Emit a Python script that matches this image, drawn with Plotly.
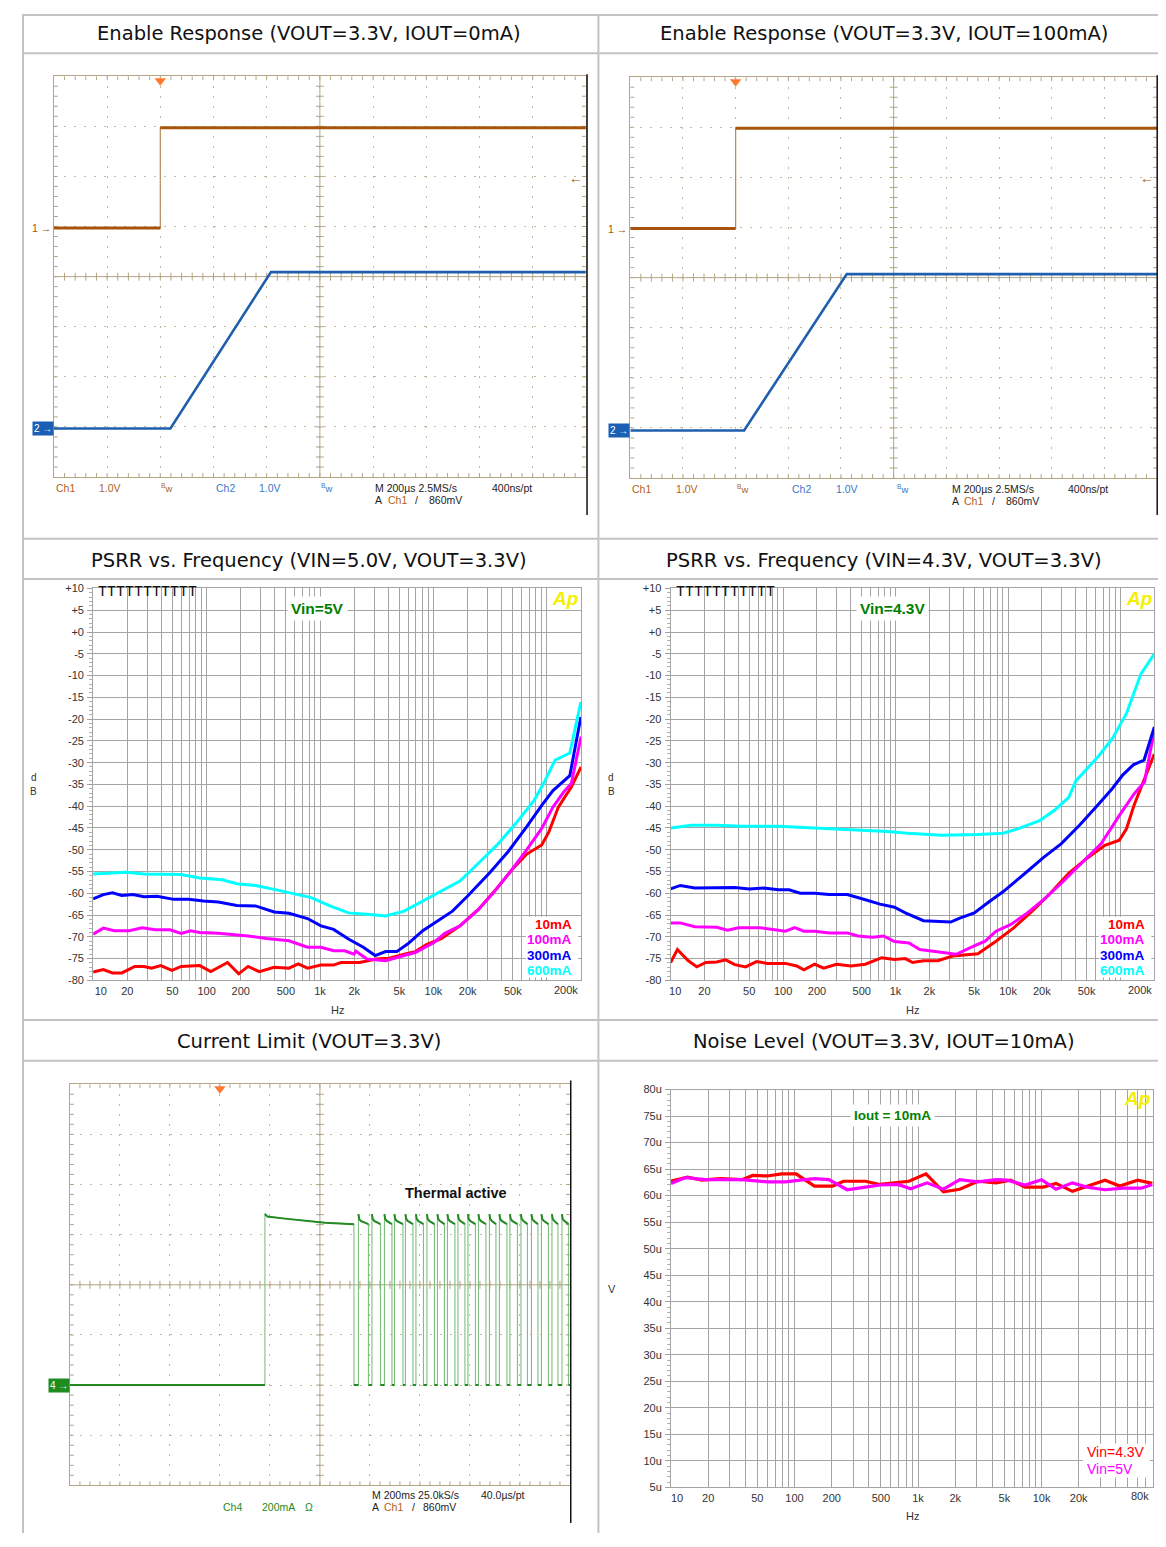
import math
import plotly.graph_objects as go

# The page keeps the browser's 8px body margin, so the figure is drawn 16px smaller
# and every reference pixel position is mapped with that 8px offset.
# Nothing may spill past the figure's right edge (it would widen the page).
W, H = 1150, 1531
OFF = 8
def fx(x): return (x - OFF) / W
def fy(y): return 1 - (y - OFF) / H
def dom(a, b): return [max(0.0, min(1.0, a)), max(0.0, min(1.0, b))]

# ================= DATA =================
# Enable response, VOUT=3.3V, IOUT=0mA  (time in us, volts)
en0_t = [-400, 0, 0, 1600]
en0_v = [0.0, 0.0, 2.0, 2.0]
vo0_t = [-400, 38, 416, 1600]
vo0_v = [0.0, 0.0, 3.12, 3.12]
# Enable response, VOUT=3.3V, IOUT=100mA
en100_t = [-400, 0, 0, 1600]
en100_v = [0.0, 0.0, 2.0, 2.0]
vo100_t = [-400, 32, 422, 1600]
vo100_v = [0.0, 0.0, 3.12, 3.12]
trig_level_v = 1.0

# PSRR, VIN=5.0V (Hz, dB)
psrr5_f_10 = [10, 12.3, 14.8, 17.9, 23.3, 28.1, 32.7, 39.5, 49.5, 59.8, 87, 109, 153, 192, 232, 291, 394, 532, 643, 776,
              1018, 1316, 1530, 2231, 3133, 4078, 5514, 6917, 8671, 11700, 17100, 24900, 36400, 49100, 66400, 89900,
              104000, 126000, 164000, 200000]
psrr5_db_10 = [-78.1, -77.5, -78.3, -78.3, -76.8, -76.8, -77.2, -76.6, -77.7, -76.8, -76.6, -78.0, -75.9, -78.5, -76.8,
               -78.0, -77.0, -77.2, -76.2, -77.2, -76.5, -76.5, -75.9, -75.9, -75.1, -74.9, -74.0, -73.4, -71.8, -70.4,
               -67.5, -63.7, -58.8, -54.6, -51.0, -48.9, -45.9, -40.2, -35.6, -31.0]
psrr5_f_100 = [10, 12.3, 15.4, 20.8, 27.1, 35.2, 47.6, 59.8, 72.2, 87, 127, 185, 232, 338, 532, 776, 1018, 1316, 1650,
               1993, 2070, 2594, 3783, 5514, 6917, 10100, 12600, 17100, 24900, 33700, 49100, 66400, 89900, 113000,
               141000, 164000, 200000]
psrr5_db_100 = [-69.4, -68.0, -68.6, -68.6, -67.9, -68.4, -68.4, -69.2, -68.6, -69.0, -69.2, -69.6, -69.8, -70.4, -70.9,
                -72.4, -72.4, -73.2, -73.2, -74.0, -73.3, -75.1, -75.5, -74.3, -73.6, -71.3, -69.2, -67.5, -63.7, -59.9,
                -54.6, -50.0, -45.1, -40.2, -36.7, -34.8, -24.0]
psrr5_f_300 = [10, 12.3, 14.8, 17.9, 22.4, 28.1, 36.6, 51.4, 69.5, 93.9, 127, 185, 270, 394, 532, 776, 1018, 1316, 1780,
               2406, 3063, 3783, 4745, 5948, 8042, 10900, 14700, 19900, 31300, 45600, 66400, 89900, 113000, 159000,
               199000]
psrr5_db_300 = [-61.3, -60.3, -59.9, -60.5, -60.3, -60.8, -60.7, -61.4, -61.4, -61.8, -62.0, -62.8, -62.9, -64.3, -64.6,
                -65.8, -67.5, -68.3, -70.5, -72.4, -74.3, -73.4, -73.4, -71.6, -68.6, -66.4, -64.1, -60.7, -55.3, -50.4,
                -44.7, -39.8, -36.4, -33.0, -19.5]
psrr5_f_600 = [10, 19.3, 28.1, 41.0, 59.8, 87, 137, 185, 270, 394, 619, 837, 1221, 1780, 2594, 3783, 5514, 8042, 11700,
               17100, 24900, 36400, 53000, 77300, 93300, 118000, 159000, 199000]
psrr5_db_600 = [-55.6, -55.2, -55.6, -55.7, -55.7, -56.5, -56.9, -57.8, -58.2, -59.1, -60.3, -61.0, -62.9, -64.5, -64.8,
                -65.2, -64.1, -61.8, -59.5, -57.2, -53.1, -48.9, -44.0, -38.6, -34.8, -29.4, -27.8, -16.1]

# PSRR, VIN=4.3V (Hz, dB)
psrr43_f_10 = [10, 11.5, 14.2, 17.1, 20.6, 25.7, 30.9, 37.2, 46.5, 58.1, 72.7, 105, 132, 153, 191, 230, 298, 401, 540,
               754, 978, 1222, 1418, 1772, 2384, 3210, 5399, 7826, 11300, 16400, 23800, 34600, 50100, 72700, 97800,
               113000, 132000, 158000, 200000]
psrr43_db_10 = [-75.9, -72.9, -75.4, -76.9, -75.9, -75.8, -75.3, -76.4, -76.9, -75.7, -76.1, -76.1, -76.7, -77.6, -76.3,
                -77.2, -76.3, -76.7, -76.3, -74.8, -75.2, -75.0, -75.9, -75.5, -75.5, -74.4, -73.9, -71.0, -67.9, -64.1,
                -60.0, -55.4, -52.0, -49.0, -47.8, -45.2, -39.8, -34.5, -28.0]
psrr43_f_100 = [10, 12.2, 16.4, 25.7, 32.1, 40.1, 62.6, 78.3, 105, 127, 153, 191, 257, 372, 465, 626, 783, 978, 1316,
                1645, 2384, 3457, 5012, 6262, 7826, 10500, 14200, 20600, 29800, 46500, 67400, 97800, 132000, 164000,
                171000, 200000]
psrr43_db_100 = [-66.8, -66.8, -67.7, -67.8, -68.5, -67.9, -67.9, -68.3, -68.7, -67.9, -68.7, -68.7, -69.1, -69.1, -69.8,
                 -70.1, -69.8, -71.1, -71.4, -72.9, -73.4, -74.0, -72.1, -71.0, -68.7, -67.2, -64.9, -61.5, -57.7, -52.8,
                 -48.6, -42.1, -37.2, -34.4, -31.7, -22.6]
psrr43_f_300 = [10, 12.2, 16.4, 23.8, 37.2, 50.1, 67.4, 90.8, 113, 142, 191, 257, 372, 540, 727, 978, 1222, 1772, 2384,
                3093, 3724, 5012, 6745, 9081, 14200, 20600, 29800, 43200, 62600, 84300, 105000, 130000, 162000, 200000]
psrr43_db_300 = [-59.0, -58.2, -58.8, -58.7, -58.7, -59.0, -58.8, -59.2, -59.2, -60.0, -60.0, -60.3, -60.3, -61.5, -62.5,
                 -63.2, -64.5, -66.3, -66.4, -66.6, -65.7, -64.5, -62.0, -59.6, -55.4, -51.8, -48.6, -44.4, -39.8, -36.0,
                 -32.8, -30.5, -29.4, -21.8]
psrr43_f_600 = [10, 15.3, 25.7, 43.2, 90.8, 191, 401, 843, 1418, 2569, 5399, 9081, 12200, 19100, 25700, 34600, 40100,
                62800, 84600, 113000, 131000, 152000, 200000]
psrr43_db_600 = [-45.0, -44.4, -44.4, -44.6, -44.6, -45.0, -45.5, -45.8, -46.3, -46.7, -46.5, -46.2, -45.2, -43.3, -41.0,
                 -38.0, -34.2, -28.7, -24.5, -18.7, -14.2, -9.6, -5.0]

psrr_labels = ["10mA", "100mA", "300mA", "600mA"]
psrr_colors = ["#ff0000", "#ff00ff", "#0000ff", "#00ffff"]

# Current limit (time in ms, current in mA)
cl_step_ms = 180
cl_init_t = [180, 190, 260, 340, 420, 536]
cl_init_ma = [683, 672, 664, 655, 648, 642]
cl_fall_ms = [536, 594, 642, 688, 732, 772, 814, 858, 898, 940, 980, 1022, 1064, 1104, 1148, 1190, 1230, 1272, 1314,
              1352, 1394]
cl_rise_ms = [554, 608, 658, 698, 742, 784, 828, 870, 910, 952, 992, 1034, 1078, 1118, 1160, 1204, 1246, 1286, 1328,
              1368]
cl_peak_ma = 682
cl_settle_ma = 655
cl_end_ma = 642

# Noise level (Hz, uV)
noise_f_43 = [10, 13.6, 17.8, 25, 37.5, 45.9, 60.2, 78.9, 103, 145, 204, 249, 375, 491, 844, 1161, 1607, 2178, 3055,
              4287, 5623, 7375, 10350, 13100, 17800, 23300, 32700, 42900, 60100, 78900]
noise_v_43 = [62.7, 63.5, 62.9, 63.2, 63.0, 63.8, 63.7, 64.1, 64.1, 61.8, 61.8, 62.7, 62.7, 62.1, 62.7, 64.1, 60.7, 61.2,
              62.7, 62.4, 62.9, 61.6, 61.6, 62.3, 60.8, 61.8, 62.9, 61.8, 62.9, 62.3]
noise_f_5 = [10, 13.1, 19.0, 37.5, 60.2, 84.4, 111, 145, 190, 267, 375, 491, 689, 873, 1185, 1607, 2178, 3055, 4287,
             5256, 7375, 10000, 13100, 17800, 23300, 32700, 45900, 64400, 78900]
noise_v_5 = [62.3, 63.4, 63.0, 63.0, 62.6, 62.6, 62.9, 63.2, 63.0, 61.1, 61.6, 62.0, 62.1, 61.3, 62.4, 61.2, 63.0, 62.6,
             63.0, 62.9, 62.0, 63.0, 61.2, 62.4, 61.6, 61.1, 61.4, 61.4, 62.1]

psrr_xtick_vals = [10, 20, 50, 100, 200, 500, 1000, 2000, 5000, 10000, 20000, 50000, 200000]
psrr_xtick_text = ["10", "20", "50", "100", "200", "500", "1k", "2k", "5k", "10k", "20k", "50k", "200k"]
psrr_ytick_vals = list(range(-80, 11, 5))
psrr_ytick_text = [("+%d" % v) if v >= 0 else str(v) for v in psrr_ytick_vals]
noise_xtick_vals = [10, 20, 50, 100, 200, 500, 1000, 2000, 5000, 10000, 20000, 80000]
noise_xtick_text = ["10", "20", "50", "100", "200", "500", "1k", "2k", "5k", "10k", "20k", "80k"]
noise_ytick_vals = list(range(5, 81, 5))
noise_ytick_text = ["%du" % v for v in noise_ytick_vals]

# ================= STYLE =================
TAN = "#b3a585"
DOT = "#c4b99c"
GRID = "#a4a4a4"
BROWN = "#a8540c"
BLUE = "#1f5fae"
GREEN = "#238a23"
SANS = "Liberation Sans"
NB = "\u00a0"

fig = go.Figure()
annotations = []
shapes = []

def ann(x, y, text, size=11, color="#222", xanchor="left", yanchor="middle", family=SANS,
        xref="paper", yref="paper", bg=None, pad=1, conv=True):
    d = dict(x=fx(x) if (conv and xref == "paper") else x,
             y=fy(y) if (conv and yref == "paper") else y,
             xref=xref, yref=yref, text=text, showarrow=False,
             xanchor=xanchor, yanchor=yanchor, font=dict(size=size, color=color, family=family),
             borderpad=pad)
    if bg:
        d["bgcolor"] = bg
    annotations.append(d)

def split_flats(t, v):
    xs, ys = [], []
    for i in range(len(t)):
        if i > 0 and t[i] == t[i - 1]:
            xs.append(None); ys.append(None)
        xs.append(t[i]); ys.append(v[i])
    return xs, ys

def scope_decor(xa, ya, x0, x1, ppx, ppy):
    xs, ys = [], []
    xc = (x0 + x1) / 2.0
    yc = 4.0
    div = (x1 - x0) / 10.0
    def seg(a, b, c, d):
        xs.extend([a, c, None]); ys.extend([b, d, None])
    seg(xc, 0, xc, 8)
    seg(x0, yc, x1, yc)
    lxc, lyc = 4.0 / ppx, 4.0 / ppy
    lxb, lyb = 4.0 / ppx, 4.0 / ppy
    for k in range(1, 50):
        x = x0 + k * div / 5.0
        seg(x, yc - lyc, x, yc + lyc)
        seg(x, 0, x, lyb)
        seg(x, 8 - lyb, x, 8)
    for k in range(1, 40):
        y = k * 0.2
        seg(xc - lxc, y, xc + lxc, y)
        seg(x0, y, x0 + lxb, y)
        seg(x1 - lxb, y, x1, y)
    return go.Scatter(x=xs, y=ys, xaxis=xa, yaxis=ya, mode="lines",
                      line=dict(color=TAN, width=1), hoverinfo="skip", showlegend=False)

def scope_axes(dom_x, dom_y, xr, dt, yname_anchor, xname_anchor):
    xa = dict(domain=dom_x, range=xr, dtick=dt, tick0=xr[0], showline=True, linecolor=TAN, linewidth=1,
              mirror=True, showgrid=True, gridcolor=DOT, griddash="2px,8px", gridwidth=1, ticks="",
              showticklabels=False, zeroline=False, anchor=yname_anchor)
    ya = dict(domain=dom_y, range=[0, 8], dtick=1, tick0=0, showline=True, linecolor=TAN, linewidth=1,
              mirror=True, showgrid=True, gridcolor=DOT, griddash="2px,8px", gridwidth=1, ticks="",
              showticklabels=False, zeroline=False, anchor=xname_anchor)
    return xa, ya

def over_axis(base, rng, anchor):
    return dict(overlaying=base, range=rng, visible=False, anchor=anchor, showgrid=False, zeroline=False)

# ---------- Panel 1 & 2: enable response ----------
scope_geo = [
    ("x", "y", "y2", "y3", 40.3, 578.8, 70.7, 474.7, 4.97, 0.97, en0_t, en0_v, vo0_t, vo0_v),
    ("x2", "y4", "y5", "y6", 623.8, 1157.0, 71.7, 475.7, 4.98, 0.95, en100_t, en100_v, vo100_t, vo100_v),
]
layout_axes = {}
for i, (xa, yb, y1, y2, L, R, T, B, g1, g2, et, ev, vt, vv) in enumerate(scope_geo):
    xname = "xaxis" if xa == "x" else "xaxis" + xa[1:]
    ybn = "yaxis" if yb == "y" else "yaxis" + yb[1:]
    xd, yd = scope_axes(dom(fx(L), fx(R)), dom(fy(B), fy(T)), [-400, 1600], 200, yb, xa)
    layout_axes[xname] = xd
    layout_axes[ybn] = yd
    layout_axes["yaxis" + y1[1:]] = over_axis(yb, [-g1, 8 - g1], xa)
    layout_axes["yaxis" + y2[1:]] = over_axis(yb, [-g2, 8 - g2], xa)
    ppx = (R - L) / 2000.0
    ppy = (B - T) / 8.0
    fig.add_trace(scope_decor(xa, yb, -400, 1600, ppx, ppy))
    fig.add_trace(go.Scatter(x=[0], y=[8 - 4.5 / ppy], xaxis=xa, yaxis=yb, mode="markers",
                             marker=dict(symbol="triangle-down", size=10, color="#ff7a30"),
                             cliponaxis=False, hoverinfo="skip", showlegend=False))
    fig.add_trace(go.Scatter(x=et, y=ev, xaxis=xa, yaxis=y1, mode="lines",
                             line=dict(color="#b48a58", width=1.2), hoverinfo="skip", showlegend=False))
    fx1, fy1 = split_flats(et, ev)
    fig.add_trace(go.Scatter(x=fx1, y=fy1, xaxis=xa, yaxis=y1, mode="lines",
                             line=dict(color=BROWN, width=3), hoverinfo="skip", showlegend=False))
    fig.add_trace(go.Scatter(x=vt, y=vv, xaxis=xa, yaxis=y2, mode="lines",
                             line=dict(color=BLUE, width=2.6), hoverinfo="skip", showlegend=False))
    ann(L - 1, 0, "1 \u2192", size=10.5, color=BROWN, xanchor="right", yref=y1, conv=False)
    annotations[-1]["x"] = fx(L - 1)
    ann(L, 0, "2 \u2192", size=10, color="white", xanchor="right", yref=y2, bg="#1a5fb4", pad=1, conv=False)
    annotations[-1]["x"] = fx(L)
    ann(R - 1, trig_level_v, "\u2190", size=14, color=BROWN, xanchor="right", yref=y1, conv=False)
    annotations[-1]["x"] = fx(R - 1)
    off = L
    by1, by2 = B + 11, B + 23
    ann(off + 0, by1, "Ch1", 10.5, "#b0631c")
    ann(off + 44, by1, "1.0V", 10.5, "#b0631c")
    ann(off + 106, by1, "<sup>B</sup>w", 9.5, "#b0631c")
    ann(off + 162, by1, "Ch2", 10.5, "#3a78c8")
    ann(off + 206, by1, "1.0V", 10.5, "#3a78c8")
    ann(off + 268, by1, "<sup>B</sup>w", 9.5, "#3a78c8")
    ann(off + 323.5, by1, "M 200\u00b5s 2.5MS/s", 10.5, "#222")
    ann(off + 441, by1, "400ns/pt", 10.5, "#222")
    ann(off + 323.5, by2, "A", 10.5, "#222")
    ann(off + 336, by2, "Ch1", 10.5, "#b0631c")
    ann(off + 364, by2, "/", 10.5, "#222")
    ann(off + 378, by2, "860mV", 10.5, "#222")
    shapes.append(dict(type="line", xref="paper", yref="paper", x0=fx(min(R + 1.2, 1157.2)),
                       x1=fx(min(R + 1.2, 1157.2)), y0=fy(T - 2), y1=fy(513),
                       line=dict(color="#111", width=1.5)))

# ---------- Panel 5: current limit ----------
L5, R5, T5, B5 = 56.5, 562.7, 1086.7, 1491.0
xd, yd = scope_axes(dom(fx(L5), fx(R5)), dom(fy(B5), fy(T5)), [-600, 1400], 200, "y9", "x5")
layout_axes["xaxis5"] = xd
layout_axes["yaxis9"] = yd
layout_axes["yaxis10"] = over_axis("y9", [-400, 1200], "x5")
ppx5 = (R5 - L5) / 2000.0
ppy5 = (B5 - T5) / 8.0
fig.add_trace(scope_decor("x5", "y9", -600, 1400, ppx5, ppy5))
fig.add_trace(go.Scatter(x=[0], y=[8 - 4.5 / ppy5], xaxis="x5", yaxis="y9", mode="markers",
                         marker=dict(symbol="triangle-down", size=10, color="#ff7a30"),
                         cliponaxis=False, hoverinfo="skip", showlegend=False))
cl_t = [-600, cl_step_ms]
cl_i = [0, 0]
cl_t += cl_init_t
cl_i += cl_init_ma
for k, f in enumerate(cl_fall_ms):
    cl_t += [f, f]
    cl_i += [cl_end_ma, 0]
    if k < len(cl_rise_ms):
        r = cl_rise_ms[k]
        cl_t += [r, r, r + 3, r + 9]
        cl_i += [0, cl_peak_ma, cl_settle_ma + 8, cl_settle_ma]
cl_t.append(1400)
cl_i.append(0)
fig.add_trace(go.Scatter(x=cl_t, y=cl_i, xaxis="x5", yaxis="y10", mode="lines",
                         line=dict(color="#7fc07f", width=1.1), hoverinfo="skip", showlegend=False))
ftx, fty = split_flats(cl_t, cl_i)
fig.add_trace(go.Scatter(x=ftx, y=fty, xaxis="x5", yaxis="y10", mode="lines",
                         line=dict(color=GREEN, width=2), hoverinfo="skip", showlegend=False))
ann(L5, 0, "4 \u2192", size=10, color="white", xanchor="right", yref="y10", bg="#1e8c1e", pad=1, conv=False)
annotations[-1]["x"] = fx(L5)
ann(447, 1196, "<b>Thermal active</b>", 14.5, "#111", xanchor="center")
ann(209, 1513, "Ch4", 10.5, GREEN)
ann(249, 1513, "200mA", 10.5, GREEN)
ann(292, 1513, "\u03a9", 10.5, GREEN)
ann(360.6, 1501, "M 200ms 25.0kS/s", 10.5, "#222")
ann(470.5, 1501, "40.0\u00b5s/pt", 10.5, "#222")
ann(360.6, 1513, "A", 10.5, "#222")
ann(372.6, 1513, "Ch1", 10.5, "#b0631c")
ann(400.8, 1513, "/", 10.5, "#222")
ann(412, 1513, "860mV", 10.5, "#222")
shapes.append(dict(type="line", xref="paper", yref="paper", x0=fx(563.5), x1=fx(563.5),
                   y0=fy(1083), y1=fy(1529), line=dict(color="#111", width=1.5)))

# ---------- AP-style plots ----------
def minor_log(lo, hi):
    vals = []
    d = 1
    while d <= hi:
        for m in range(1, 10):
            v = m * d
            if lo <= v <= hi:
                vals.append(v)
        d *= 10
    return vals

def inner_labels(tt, nl):
    # first label sits just inside the frame (AP style); the last one is drawn
    # right-aligned at the frame by an annotation so it never spills past the page
    out = list(tt)
    out[0] = NB * nl + out[0]
    out[-1] = ""
    return out

def ap_x(dm, hi, tv, tt, anchor):
    return dict(domain=dm, type="log", range=[1, math.log10(hi)], tickmode="array", tickvals=tv, ticktext=tt,
                showgrid=True, gridcolor=GRID, gridwidth=1, showline=True, linecolor=GRID, linewidth=1,
                mirror=True, ticks="", zeroline=False, anchor=anchor,
                tickfont=dict(family=SANS, size=11, color="#333"),
                minor=dict(tickmode="array", tickvals=minor_log(10, hi), showgrid=True, gridcolor=GRID,
                           gridwidth=1, ticks=""))

def ap_y(dm, rng, tv, tt, anchor):
    return dict(domain=dm, range=rng, tickmode="array", tickvals=tv, ticktext=tt,
                showgrid=True, gridcolor=GRID, gridwidth=1, showline=True, linecolor=GRID, linewidth=1,
                mirror=True, ticks="outside", ticklen=5, tickcolor="#a0a0a0", zeroline=False, anchor=anchor,
                tickfont=dict(family=SANS, size=11, color="#333"), ticklabelstandoff=1,
                minor=dict(dtick=1, ticks="outside", ticklen=3, tickcolor="#b0b0b0", showgrid=False))

psrr_panels = [
    ("x3", "y7", 80, 574, "Vin=5V", 5, 572,
     [(psrr5_f_10, psrr5_db_10), (psrr5_f_100, psrr5_db_100), (psrr5_f_300, psrr5_db_300), (psrr5_f_600, psrr5_db_600)]),
    ("x4", "y8", 664.6, 1154.3, "Vin=4.3V", 3, 1153,
     [(psrr43_f_10, psrr43_db_10), (psrr43_f_100, psrr43_db_100), (psrr43_f_300, psrr43_db_300),
      (psrr43_f_600, psrr43_db_600)]),
]
PT, PB = 587, 982
for xa, ya, L, R, lab, nl, rlab, series in psrr_panels:
    layout_axes["xaxis" + xa[1:]] = ap_x(dom(fx(L), fx(R)), 200000, psrr_xtick_vals,
                                         inner_labels(psrr_xtick_text, nl), ya)
    layout_axes["yaxis" + ya[1:]] = ap_y(dom(fy(PB), fy(PT)), [-80, 10], psrr_ytick_vals, psrr_ytick_text, xa)
    for (f, d), c, nm in zip(series, psrr_colors, psrr_labels):
        fig.add_trace(go.Scatter(x=f, y=d, xaxis=xa, yaxis=ya, mode="lines", name=nm,
                                 line=dict(color=c, width=3), hoverinfo="skip", showlegend=False))
    ann(rlab, 992, psrr_xtick_text[-1], 11, "#333", xanchor="right", pad=0)
    cx = (L + R) / 2
    ann(L + 3, PT + 4, "TTTTTTTTTTT", 15, "#111", yanchor="middle", family="Liberation Mono")
    ann(cx - 20, 606.7, "<b>" + lab + "</b>", 15.5, "#008000", xanchor="center", bg="white", pad=3)
    ann(R - 16, 597, "<b><i>Ap</i></b>", 19, "#f4f000", xanchor="center")
    shapes.append(dict(type="rect", xref="paper", yref="paper", x0=fx(R - 56), x1=fx(R - 3),
                       y0=fy(979), y1=fy(918), fillcolor="white", line=dict(width=0), layer="above"))
    for k, (nm, c) in enumerate(zip(psrr_labels, psrr_colors)):
        ann(R - 7, 925.7 + 15.5 * k, "<b>" + nm + "</b>", 13.5, c, xanchor="right")
    ann(L - 60, 778, "d", 10, "#333", xanchor="center")
    ann(L - 60, 792, "B", 10, "#333", xanchor="center")
    ann(cx, 1012, "Hz", 11, "#333", xanchor="center")

# Noise
L6, R6, T6, B6 = 665, 1153, 1092, 1493
layout_axes["xaxis6"] = ap_x(dom(fx(L6), fx(R6)), 80000, noise_xtick_vals,
                             inner_labels(noise_xtick_text, 4), "y11")
layout_axes["yaxis11"] = ap_y(dom(fy(B6), fy(T6)), [5, 80], noise_ytick_vals, noise_ytick_text, "x6")
ann(1150, 1502, noise_xtick_text[-1], 11, "#333", xanchor="right", pad=0)
fig.add_trace(go.Scatter(x=noise_f_43, y=noise_v_43, xaxis="x6", yaxis="y11", mode="lines", name="Vin=4.3V",
                         line=dict(color="#ff0000", width=3.2), hoverinfo="skip", showlegend=False))
fig.add_trace(go.Scatter(x=noise_f_5, y=noise_v_5, xaxis="x6", yaxis="y11", mode="lines", name="Vin=5V",
                         line=dict(color="#ff00ff", width=3.2), hoverinfo="skip", showlegend=False))
ann(889.6, 1118, "<b>Iout = 10mA</b>", 13.5, "#008000", xanchor="center", bg="white", pad=3)
ann(1137, 1101, "<b><i>Ap</i></b>", 19, "#f4f000", xanchor="center")
shapes.append(dict(type="rect", xref="paper", yref="paper", x0=fx(1082), x1=fx(1150),
                   y0=fy(1483), y1=fy(1449), fillcolor="white", line=dict(width=0), layer="above"))
ann(1084, 1457.7, "Vin=4.3V", 14, "#ff0000")
ann(1084, 1474.3, "Vin=5V", 14, "#ff00ff")
ann(605, 1293, "V", 11, "#333", xanchor="center")
ann(909, 1522, "Hz", 11, "#333", xanchor="center")

# ---------- table frame & titles ----------
LINE = "#c3c3c3"
for yy in [9, 47.5, 537, 577.5, 1022, 1063]:
    shapes.append(dict(type="line", xref="paper", yref="paper", x0=fx(8), x1=1, y0=fy(yy), y1=fy(yy),
                       line=dict(color=LINE, width=2), layer="below"))
for xx in [9, 591.5]:
    shapes.append(dict(type="line", xref="paper", yref="paper", x0=fx(xx), x1=fx(xx), y0=fy(8), y1=0,
                       line=dict(color=LINE, width=2), layer="below"))

TF = "DejaVu Sans"
TS = 19.5
ann(299, 27.5, "Enable Response (VOUT=3.3V, IOUT=0mA)", TS, "#111", xanchor="center", family=TF)
ann(881, 27.5, "Enable Response (VOUT=3.3V, IOUT=100mA)", TS, "#111", xanchor="center", family=TF)
ann(299, 559, "PSRR vs. Frequency (VIN=5.0V, VOUT=3.3V)", TS, "#111", xanchor="center", family=TF)
ann(881, 559, "PSRR vs. Frequency (VIN=4.3V, VOUT=3.3V)", TS, "#111", xanchor="center", family=TF)
ann(299, 1044, "Current Limit (VOUT=3.3V)", TS, "#111", xanchor="center", family=TF)
ann(881, 1044, "Noise Level (VOUT=3.3V, IOUT=10mA)", TS, "#111", xanchor="center", family=TF)

fig.update_layout(width=W, height=H, margin=dict(l=0, r=0, t=0, b=0), paper_bgcolor="white",
                  plot_bgcolor="white", showlegend=False, annotations=annotations, shapes=shapes,
                  **layout_axes)
fig.write_html("out.html", include_plotlyjs=True, config={"displayModeBar": False})
